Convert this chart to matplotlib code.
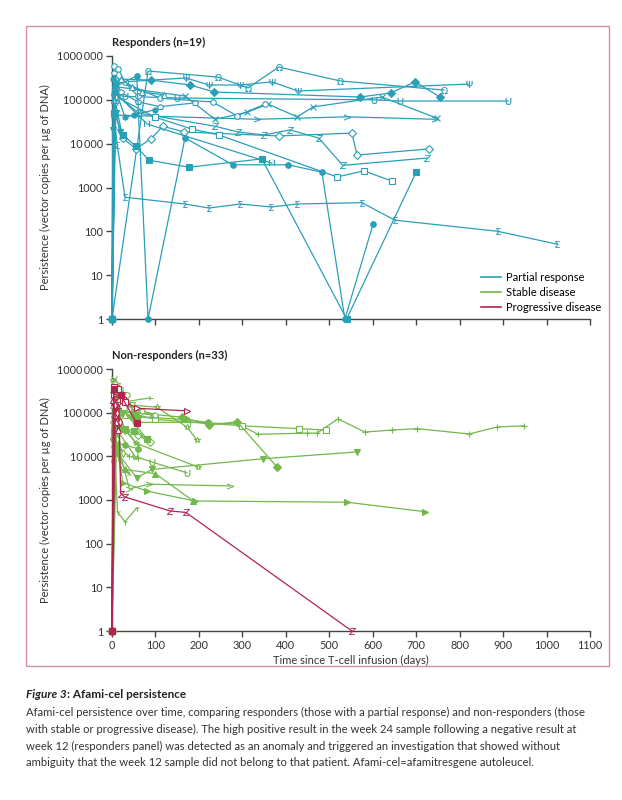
import numpy as np
import matplotlib.pyplot as plt
from matplotlib.patches import Rectangle

plt.rcParams['font.family'] = ['Lato', 'DejaVu Sans']

# colours for the three response groups
teal = '#2a9fb8'
green = '#72b84c'
red = '#b3234f'

# Responders (partial response), days since infusion and vector copies per ug DNA
partial_days = [
    [0, 83, 244, 313, 384, 525, 764],
    [0, 10, 170, 223, 295, 368, 428, 822],
    [0, 6, 90, 180, 235, 571, 642, 697, 755],
    [0, 5, 30, 150, 603, 663, 911],
    [0, 8, 168, 237, 311, 359, 426, 463, 621, 748],
    [0, 5, 334, 541, 743],
    [0, 8, 25, 55, 90, 117, 166, 384, 552, 564, 730],
    [0, 5, 60, 237, 290, 350, 410, 476, 531, 725],
    [0, 8, 100, 184, 246, 518, 580, 644],
    [0, 5, 25, 55, 85, 177, 345, 540, 700],
    [0, 4, 12, 30, 168, 223, 295, 366, 426, 575, 651, 888, 1024],
    [0, 6, 81, 368],
    [0, 8, 110, 232, 288, 352],
    [0, 5, 15, 30, 60],
    [0, 3, 10, 30, 50, 100],
    [0, 5, 20, 45, 70, 120],
    [0, 2, 10, 18],
    [0, 4, 20, 60, 110, 190],
    [0, 8, 57, 83, 168, 278, 405, 483, 536, 601],
]
partial_vals = [
    [1, 455000, 330000, 187000, 560000, 270000, 167000],
    [1, 250000, 316000, 218000, 218000, 257000, 159000, 229000],
    [1, 300000, 282000, 218000, 151000, 116000, 144000, 257000, 116000],
    [1, 130000, 120000, 110000, 100000, 94000, 94000],
    [1, 200000, 122000, 36000, 52000, 80000, 41000, 69000, 116000, 38000],
    [1, 45000, 36000, 41000, 36000],
    [1, 90000, 13500, 7600, 12900, 25000, 18500, 15000, 17400, 5500, 7600],
    [1, 150000, 50000, 25000, 18500, 15800, 20600, 13400, 3200, 4700],
    [1, 120000, 40000, 21500, 15800, 1740, 2400, 1400],
    [1, 50000, 15800, 8800, 4200, 2900, 4500, 1, 2240],
    [1, 50000, 9500, 600, 420, 340, 420, 360, 420, 450, 180, 100, 51],
    [1, 150000, 28000, 3600],
    [1, 300000, 110000, 89000, 43000, 80000],
    [1, 600000, 500000, 250000, 120000],
    [1, 300000, 150000, 40000, 45000, 60000],
    [1, 100000, 300000, 200000, 150000, 130000],
    [1, 20000, 50000, 18000],
    [1, 400000, 150000, 90000, 70000, 85000],
    [1, 200000, 350000, 1, 13500, 3300, 3300, 2240, 1, 148],
]

# Non-responders: stable disease
stable_days = [
    [0, 7, 60, 180, 290, 336, 449, 472, 520, 582, 645, 702, 822, 886, 948],
    [0, 10, 100, 300, 430, 492],
    [0, 5, 50, 162, 224, 288, 380],
    [0, 5, 57, 92, 347, 564],
    [0, 5, 25, 81, 190, 541, 720],
    [0, 8, 40, 85, 272],
    [0, 10, 30, 100, 187],
    [0, 5, 13, 30, 57],
    [0, 5, 55, 198],
    [0, 5, 53, 92, 172],
    [0, 5, 40, 103, 172, 196],
    [0, 5, 30, 60, 87],
    [0, 6, 30, 60],
    [0, 5, 35, 87],
    [0, 3, 12, 25, 45],
    [0, 3, 12, 30, 60],
    [0, 4, 10, 28, 55, 90],
    [0, 5, 20, 60, 170, 220],
    [0, 5, 15, 40, 60],
    [0, 8, 20, 40, 70, 100],
    [0, 4, 10, 25, 45],
    [0, 2, 12, 25],
    [0, 6, 18, 35],
    [0, 3, 8, 20, 40],
    [0, 10, 25, 50, 80],
    [0, 5, 15, 30, 50, 80],
    [0, 3, 15, 30],
]
stable_vals = [
    [1, 150000, 60000, 60000, 55000, 32000, 34000, 34000, 72000, 36000, 40000, 43000, 32500, 47000, 50000],
    [1, 120000, 70000, 50000, 43000, 40000],
    [1, 300000, 100000, 79000, 52000, 62000, 5700],
    [1, 15000, 3200, 5000, 8800, 12600],
    [1, 40000, 2500, 1600, 950, 890, 540],
    [1, 30000, 1800, 2300, 2100],
    [1, 12000, 5000, 4000, 950],
    [1, 20000, 520, 320, 660],
    [1, 100000, 20000, 5700],
    [1, 50000, 10000, 7400, 4200],
    [1, 300000, 150000, 134000, 47000, 23500],
    [1, 60000, 40000, 30000, 21500],
    [1, 200000, 40000, 18000],
    [1, 300000, 180000, 218000],
    [1, 500000, 400000, 250000, 150000],
    [1, 25000, 20000, 18000, 15000],
    [1, 600000, 300000, 200000, 100000, 90000],
    [1, 80000, 100000, 80000, 70000, 60000],
    [1, 22000, 15000, 10000, 9000],
    [1, 400000, 250000, 120000, 110000, 90000],
    [1, 100000, 80000, 90000, 80000],
    [1, 8000, 25000, 12000],
    [1, 450000, 350000, 250000],
    [1, 1800, 30000, 5000, 4000],
    [1, 200000, 100000, 60000, 25000],
    [1, 35000, 45000, 42000, 38000, 25000],
    [1, 150000, 110000, 90000],
]

# Non-responders: progressive disease
progressive_days = [
    [0, 5, 57, 172],
    [0, 5, 16, 20, 30, 134, 170, 552],
    [0, 3, 7, 10, 14],
    [0, 4, 15, 25, 30],
    [0, 8, 12, 18],
    [0, 5, 20, 57],
]
progressive_vals = [
    [1, 250000, 126000, 110000],
    [1, 180000, 150000, 1400, 1170, 560, 520, 1],
    [1, 200000, 90000, 60000, 40000],
    [1, 380000, 350000, 200000, 180000],
    [1, 150000, 100000, 60000],
    [1, 350000, 250000, 58000],
]

# marker per patient: (marker, filled)
partial_markers = [(r'$\Omega$', False), (r'$\Psi$', False), ('D', True), (r'$\cup$', False),
                   ('x', False), (r'$>$', False), ('D', False), (r'$Z$', False), ('s', False),
                   ('s', True), (r'$\Sigma$', False), (r'$\Pi$', False), ('o', False),
                   ('o', False), ('h', True), ('^', False), ('v', True), ('p', False), ('o', True)]
stable_markers = [('+', False), ('s', False), ('D', True), ('v', True), ('>', True), (r'$>$', False),
                  ('^', True), ('1', False), ('*', False), (r'$\cup$', False), ('*', False),
                  ('D', False), ('1', False), ('4', False), ('v', False), ('o', True), ('x', False),
                  ('p', True), ('+', False), ('h', False), ('<', True), ('d', False), ('o', False),
                  ('2', False), ('v', True), ('s', True), ('^', False)]
progressive_markers = [('>', False), (r'$Z$', False), ('^', False), ('s', False), ('d', False), ('s', True)]

tick_vals = [1, 10, 100, 1000, 10000, 100000, 1000000]
tick_labels = ['1', '10', '100', '1000', '10\u2009000', '100\u2009000', '1000\u2009000']
x_ticks = np.arange(0, 1101, 100)


def draw_group(ax, days_list, vals_list, markers, color):
    for d, v, (m, filled) in zip(days_list, vals_list, markers):
        if m.startswith('$'):
            # glyph markers: thin, drawn in the line colour
            ax.plot(d, v, color=color, lw=0.9, marker=m, ms=5, mew=0.1,
                    mfc=color, mec=color, clip_on=False, zorder=3)
        else:
            ax.plot(d, v, color=color, lw=0.9, marker=m, ms=4, mew=0.8,
                    mfc=color if filled else 'white', mec=color, clip_on=False, zorder=3)


def style_axes(ax, title):
    ax.set_yscale('log')
    ax.set_xlim(0, 1100)
    ax.set_ylim(1, 1000000)
    ax.set_yticks(tick_vals)
    ax.set_yticklabels(tick_labels)
    ax.minorticks_off()
    ax.set_xticks(x_ticks)
    for s in ['top', 'right']:
        ax.spines[s].set_visible(False)
    for s in ['left', 'bottom']:
        ax.spines[s].set_color('#444444')
        ax.spines[s].set_linewidth(1.0)
    ax.tick_params(direction='out', length=4, width=1.0, color='#444444',
                   labelsize=8, labelcolor='#333333', pad=2.5)
    ax.set_ylabel('Persistence (vector copies per µg of DNA)', fontsize=8, color='#333333')
    ax.yaxis.set_label_coords(-0.128, 0.5)
    return ax.set_title(title, loc='left', fontsize=8, fontweight='bold', color='#222222', pad=7)


def fit_width(txt, target_px):
    w = txt.get_window_extent(fig.canvas.get_renderer()).width
    txt.set_fontsize(txt.get_fontsize() * target_px / w)


fig = plt.figure(figsize=(6.22, 8.0), dpi=100)

ax1 = fig.add_axes([0.180, 0.60125, 0.7686, 0.32875])
ax2 = fig.add_axes([0.180, 0.21125, 0.7686, 0.32750])

draw_group(ax1, partial_days, partial_vals, partial_markers, teal)
title1 = style_axes(ax1, 'Responders (n=19)')
ax1.set_xticklabels([])

draw_group(ax2, stable_days, stable_vals, stable_markers, green)
draw_group(ax2, progressive_days, progressive_vals, progressive_markers, red)
title2 = style_axes(ax2, 'Non-responders (n=33)')
ax2.set_xlabel('Time since T-cell infusion (days)', fontsize=8, color='#333333', labelpad=3)

# legend in the responders panel
handles = [plt.Line2D([], [], color=c, lw=1.2) for c in [teal, green, red]]
ax1.legend(handles, ['Partial response', 'Stable disease', 'Progressive disease'],
           loc='lower right', bbox_to_anchor=(1.045, -0.015), frameon=False, fontsize=8,
           handlelength=1.8, handletextpad=0.5, labelspacing=0.35)

# pink frame around the figure panel
fig.patches.append(Rectangle((26 / 622, 1 - 666 / 800), 583 / 622, 640 / 800,
                             transform=fig.transFigure, fill=False, ec='#d98ca3', lw=1.0))

# caption
cap_x = 26 / 622
t1 = fig.text(cap_x, 1 - 695 / 800, 'Figure 3', fontsize=8.5, style='italic', fontweight='bold',
              color='#222222', va='center')
caption = [
    'Afami-cel persistence over time, comparing responders (those with a partial response) and non-responders (those',
    'with stable or progressive disease). The high positive result in the week 24 sample following a negative result at',
    'week 12 (responders panel) was detected as an anomaly and triggered an investigation that showed without',
    'ambiguity that the week 12 sample did not belong to that patient. Afami-cel=afamitresgene autoleucel.',
]
cap_texts = [fig.text(cap_x, 1 - (712 + 17 * i) / 800, line, fontsize=8, color='#333333', va='center')
             for i, line in enumerate(caption)]

# match the text widths measured on the reference
fig.canvas.draw()
fit_width(title1, 93)
title2.set_fontsize(title1.get_fontsize())
big = [t for t in ax1.get_yticklabels() if t.get_text() == tick_labels[-1]][0]
k = 46 / big.get_window_extent(fig.canvas.get_renderer()).width
for ax in (ax1, ax2):
    ax.tick_params(labelsize=8 * k)
fit_width(cap_texts[0], 562)
for t in cap_texts[1:]:
    t.set_fontsize(cap_texts[0].get_fontsize())
fig.canvas.draw()
bb = t1.get_window_extent()
fig.text(bb.x1 / fig.bbox.width, 1 - 695 / 800, ': Afami-cel persistence', fontsize=8.5,
         fontweight='bold', color='#222222', va='center')

fig.savefig('out.png', dpi=100)
